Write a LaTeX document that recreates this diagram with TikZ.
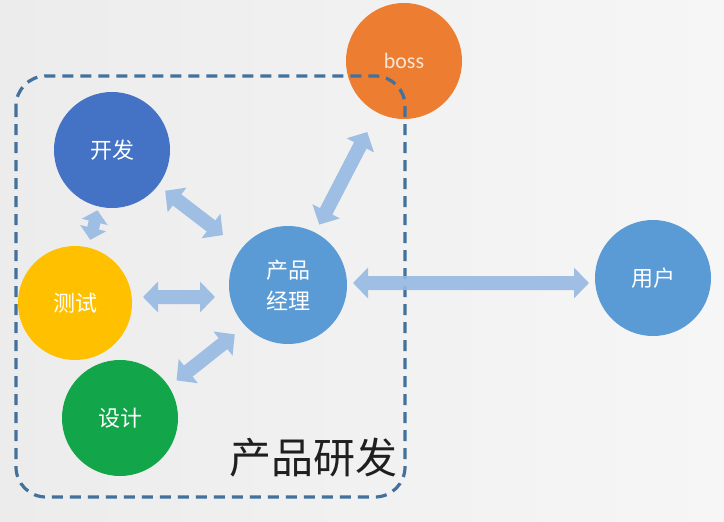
\documentclass[tikz,border=0pt]{standalone}
\usepackage{fontspec}
\newfontfamily\cjkfont{Noto Sans CJK SC}
\newfontfamily\bossfont{Carlito}
\usetikzlibrary{arrows.meta,calc}
\definecolor{bgL}{HTML}{ECECEC}
\definecolor{bgR}{HTML}{F6F6F6}
\definecolor{kfC}{HTML}{4472C4}
\definecolor{csC}{HTML}{FFC000}
\definecolor{sjC}{HTML}{12A54A}
\definecolor{bossC}{HTML}{ED7D31}
\definecolor{pmC}{HTML}{5B9BD5}
\definecolor{arrC}{HTML}{97B9E2}
\definecolor{dashC}{HTML}{41719C}
\definecolor{bossTxt}{HTML}{FBE5D6}
\tikzset{
  ball/.style={circle, minimum size=116pt, inner sep=0pt, text=white,
    font=\cjkfont\fontsize{22}{31}\selectfont, align=center},
  dbl/.style={arrC, line width=14pt,
    {Triangle[width=30pt,length=15pt]}-{Triangle[width=30pt,length=15pt]}},
  smalldbl/.style={arrC, line width=12pt,
    {Triangle[width=26pt,length=12pt]}-{Triangle[width=26pt,length=12pt]}},
  groupbox/.style={dashC, line width=3.2pt, dash pattern=on 11pt off 7pt, rounded corners=30pt}
}
\begin{document}
\begin{tikzpicture}[x=1pt,y=-1pt]
\shade[left color=bgL, right color=bgR] (0,0) rectangle (724,522);
\useasboundingbox (0,0) rectangle (724,522);

\node[ball, fill=bossC, text=bossTxt, font=\bossfont\fontsize{22}{26}\selectfont] (boss) at (404,61) {boss};
\node[ball, fill=kfC] (kf) at (112,150) {开发};
\node[ball, fill=csC, minimum size=114pt] (cs) at (75,303) {测试};
\node[ball, fill=sjC] (sj) at (120,418) {设计};
\node[ball, fill=pmC, minimum size=118pt] (pm) at (288,285) {产品\\经理};
\node[ball, fill=pmC] (yh) at (653,278) {用户};

\node[font=\cjkfont\fontsize{42}{48}\selectfont, text=black!88, anchor=center] (title) at (313,458) {产品研发};

\draw[groupbox] (16,76) rectangle (405,497);

\begin{scope}[opacity=0.9, transparency group]
\draw[dbl, shorten <=67pt, shorten >=82pt] (kf.center) -- (pm.center);
\draw[dbl, shorten <=68pt, shorten >=73pt] ([yshift=6pt]cs.center) -- ([yshift=6pt]cs.center -| pm.center);
\draw[dbl, shorten <=67pt, shorten >=73pt] ([xshift=4pt,yshift=-4pt]sj.center) -- ([xshift=4pt,yshift=-4pt]pm.center);
\draw[dbl, shorten <=68pt, shorten >=80pt] (pm.center) -- (boss.center);
\draw[dbl, shorten <=65pt, shorten >=64pt] ([yshift=2pt]pm.center) -- ([yshift=2pt]pm.center -| yh.center);
\draw[smalldbl, shorten <=65pt, shorten >=62pt] (cs.center) -- (kf.center);
\end{scope}
\end{tikzpicture}
\end{document}
